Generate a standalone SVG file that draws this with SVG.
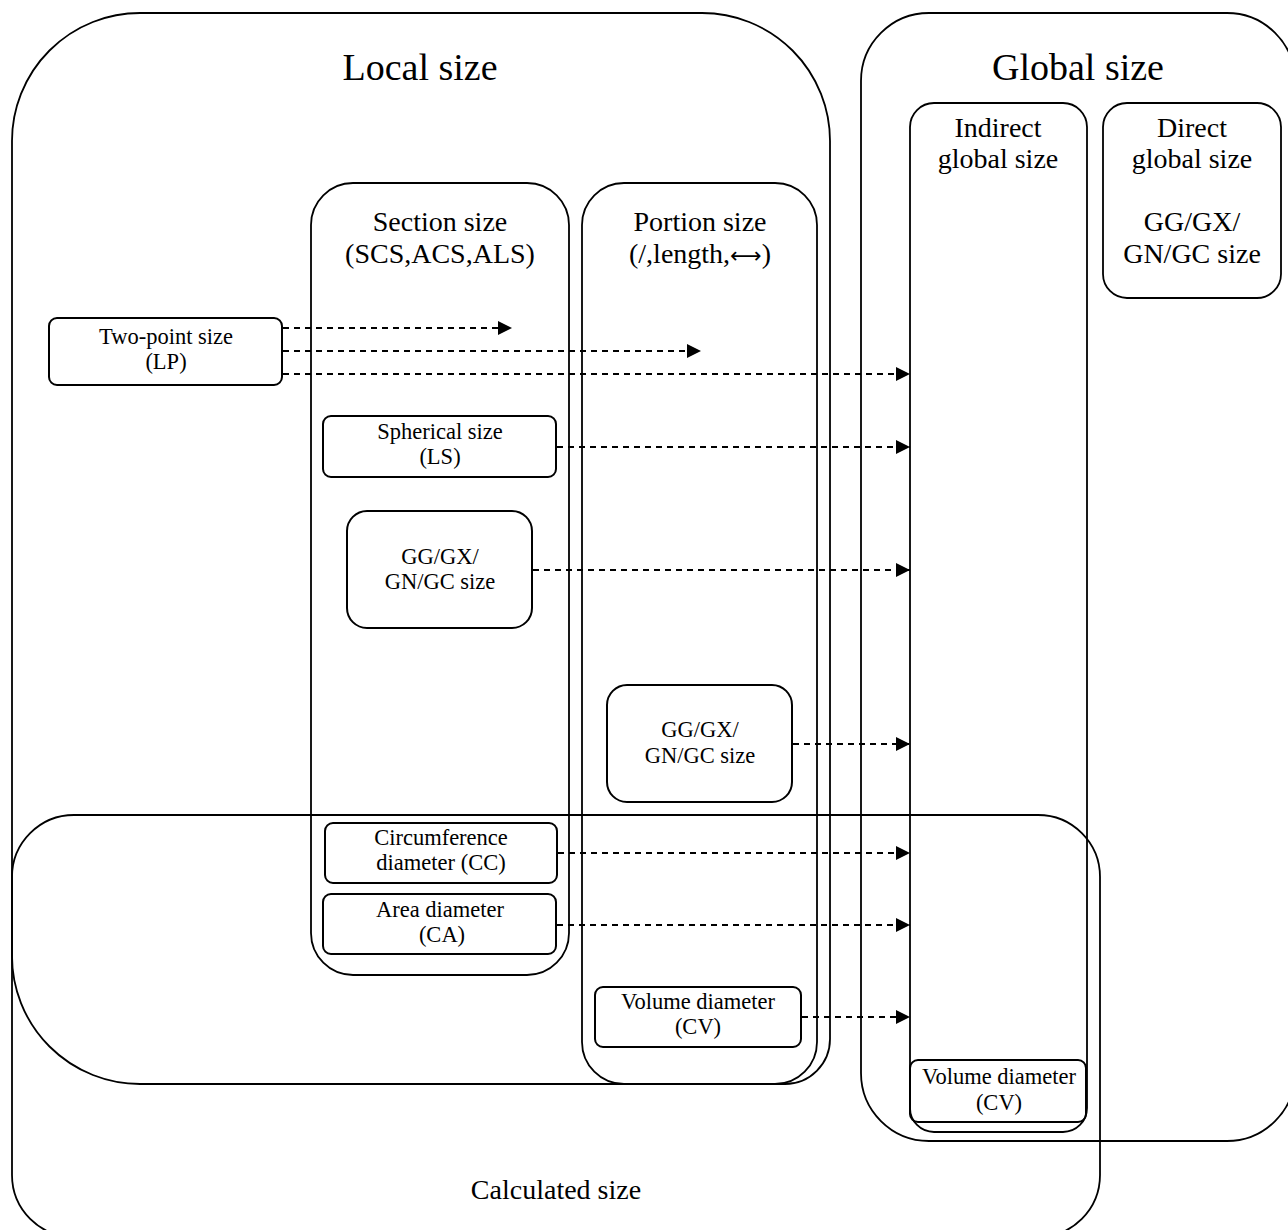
<svg xmlns="http://www.w3.org/2000/svg" width="1288" height="1230" viewBox="0 0 1288 1230">
<style>
.big{fill:none;stroke:#000;stroke-width:1.8}
.box{fill:none;stroke:#000;stroke-width:2}
.t{font-family:"Liberation Serif","Times New Roman",serif;fill:#000;text-anchor:middle}
.h1{font-size:38px}
.h2{font-size:28px}
.n{font-size:22.5px}
.arr{font-family:"DejaVu Sans",sans-serif;font-size:22px}
.c{fill:none;stroke:#000;stroke-width:2;stroke-dasharray:6 5;marker-end:url(#ah)}
</style>
<defs>
<marker id="ah" markerUnits="userSpaceOnUse" markerWidth="16" markerHeight="16" refX="14" refY="7" orient="auto">
<path d="M0,0 L14,7 L0,14 Z" fill="#000"/>
</marker>
</defs>
<rect width="1288" height="1230" fill="#fff"/>

<g id="local-size">
<path class="big" d="M140 13 H702 A128 128 0 0 1 830 141 V1039 A45 45 0 0 1 785 1084 H140 A128 128 0 0 1 12 956 V141 A128 128 0 0 1 140 13 Z"/>
<text class="t h1" x="420" y="80">Local size</text>
</g>

<g id="global-size">
<rect class="big" x="861" y="13" width="434" height="1128" rx="68" ry="68"/>
<text class="t h1" x="1078" y="80">Global size</text>
</g>

<g id="calculated-size">
<rect class="big" x="12" y="815" width="1088" height="422" rx="62" ry="62"/>
<text class="t h2" x="556" y="1199">Calculated size</text>
</g>

<g id="section-size">
<rect class="big" x="311" y="183" width="258" height="792" rx="42" ry="42"/>
<text class="t h2" x="440" y="231">Section size</text>
<text class="t h2" x="440" y="263">(SCS,ACS,ALS)</text>
</g>

<g id="portion-size">
<rect class="big" x="582" y="183" width="235" height="901" rx="42" ry="42"/>
<text class="t h2" x="700" y="231">Portion size</text>
<text class="t h2" x="700" y="263">(/,length,<tspan class="arr">⟷</tspan>)</text>
</g>

<g id="indirect-global-size">
<rect class="big" x="910" y="103" width="177" height="1029" rx="24" ry="24"/>
<text class="t h2" x="998" y="137">Indirect</text>
<text class="t h2" x="998" y="168">global size</text>
</g>

<g id="direct-global-size">
<rect class="big" x="1103" y="103" width="178" height="195" rx="24" ry="24"/>
<text class="t h2" x="1192" y="137">Direct</text>
<text class="t h2" x="1192" y="168">global size</text>
<text class="t h2" x="1192" y="231">GG/GX/</text>
<text class="t h2" x="1192" y="263">GN/GC size</text>
</g>

<g id="two-point-size">
<rect class="box" x="49" y="318" width="233" height="67" rx="8" ry="8"/>
<text class="t n" x="166" y="344">Two-point size</text>
<text class="t n" x="166" y="369">(LP)</text>
</g>

<g id="spherical-size">
<rect class="box" x="323" y="416" width="233" height="61" rx="8" ry="8"/>
<text class="t n" x="440" y="439">Spherical size</text>
<text class="t n" x="440" y="464">(LS)</text>
</g>

<g id="section-gg-size">
<rect class="box" x="347" y="511" width="185" height="117" rx="20" ry="20"/>
<text class="t n" x="440" y="564">GG/GX/</text>
<text class="t n" x="440" y="589">GN/GC size</text>
</g>

<g id="portion-gg-size">
<rect class="box" x="607" y="685" width="185" height="117" rx="20" ry="20"/>
<text class="t n" x="700" y="737">GG/GX/</text>
<text class="t n" x="700" y="763">GN/GC size</text>
</g>

<g id="circumference-diameter">
<rect class="box" x="325" y="823" width="232" height="60" rx="8" ry="8"/>
<text class="t n" x="441" y="845">Circumference</text>
<text class="t n" x="441" y="870">diameter (CC)</text>
</g>

<g id="area-diameter">
<rect class="box" x="323" y="894" width="233" height="60" rx="8" ry="8"/>
<text class="t n" x="440" y="917">Area diameter</text>
<text class="t n" x="442" y="942">(CA)</text>
</g>

<g id="volume-diameter-portion">
<rect class="box" x="595" y="987" width="206" height="60" rx="8" ry="8"/>
<text class="t n" x="698" y="1009">Volume diameter</text>
<text class="t n" x="698" y="1034">(CV)</text>
</g>

<g id="volume-diameter-global">
<rect class="box" x="910" y="1060" width="176" height="62" rx="8" ry="8"/>
<text class="t n" x="999" y="1084">Volume diameter</text>
<text class="t n" x="999" y="1110">(CV)</text>
</g>

<g id="connectors">
<path class="c" d="M283 328 H512"/>
<path class="c" d="M283 351 H701"/>
<path class="c" d="M283 374 H910"/>
<path class="c" d="M557 447 H910"/>
<path class="c" d="M533 570 H910"/>
<path class="c" d="M793 744 H910"/>
<path class="c" d="M558 853 H910"/>
<path class="c" d="M557 925 H910"/>
<path class="c" d="M802 1017 H910"/>
</g>
</svg>
